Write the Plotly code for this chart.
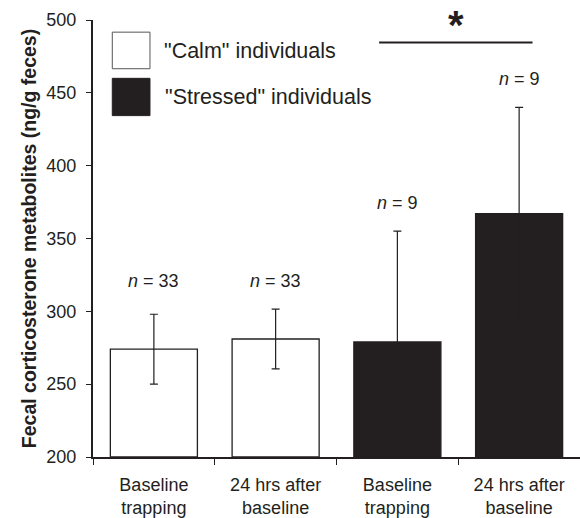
import plotly.graph_objects as go

# ---- data ----
categories = ["Baseline<br>trapping", "24 hrs after<br>baseline",
              "Baseline<br>trapping", "24 hrs after<br>baseline"]
groups = ["Calm", "Calm", "Stressed", "Stressed"]
means = [274, 281, 279, 367]
errors = [24, 20.5, 76, 73]
n_labels = ["33", "33", "9", "9"]
y_ticks = [200, 250, 300, 350, 400, 450, 500]
legend_labels = ['"Calm" individuals', '"Stressed" individuals']
sig_pair = [2, 3]

DARK = "#231f20"
FONT = "Liberation Sans, Arial, sans-serif"
fill_for = {"Calm": "white", "Stressed": DARK}

x_pos = list(range(len(means)))

fig = go.Figure()
fig.add_trace(go.Bar(
    x=x_pos, y=[m - 200 for m in means], base=200,
    width=0.715,
    marker=dict(color=[fill_for[g] for g in groups],
                line=dict(color=DARK, width=1.3)),
    error_y=dict(type="data", array=errors, symmetric=True,
                 color=DARK, thickness=1.2, width=4),
    showlegend=False,
))

# n labels
tops = [m + e for m, e in zip(means, errors)]
label_base = [max(tops[0], tops[1]), max(tops[0], tops[1]), tops[2], tops[3]]
for i, (lb, n) in enumerate(zip(label_base, n_labels)):
    fig.add_annotation(x=i, y=lb, text=f"<i>n</i> = {n}", showarrow=False,
                       yanchor="middle", yshift=28,
                       font=dict(family=FONT, size=18, color=DARK))

# significance bar + asterisk
fig.add_shape(type="line", xref="x", yref="y",
              x0=sig_pair[0] - 0.15, x1=sig_pair[1] + 0.11, y0=484.6, y1=484.6,
              line=dict(color=DARK, width=2))
fig.add_annotation(x=(sig_pair[0] + sig_pair[1]) / 2 - 0.02, y=496.5, text="<b>*</b>",
                   showarrow=False, yanchor="middle",
                   font=dict(family=FONT, size=40, color=DARK))

# legend drawn manually
boxes = [(0.9722, 0.8885), (0.8665, 0.7812)]
text_pos = [(0.1423, 0.9283), (0.1444, 0.8228)]
for (yt, yb), (tx, ty), lab, g in zip(boxes, text_pos, legend_labels, ["Calm", "Stressed"]):
    fig.add_shape(type="rect", xref="paper", yref="paper",
                  x0=0.0396, x1=0.117, y0=yb, y1=yt,
                  fillcolor=fill_for[g], line=dict(color="#555555" if g == "Calm" else DARK, width=1))
    fig.add_annotation(xref="paper", yref="paper", x=tx, y=ty, text=lab,
                       showarrow=False, xanchor="left", yanchor="middle",
                       font=dict(family=FONT, size=21.5, color=DARK))

fig.update_layout(
    width=580, height=518,
    margin=dict(l=93, r=0, t=20, b=56),
    plot_bgcolor="white", paper_bgcolor="white",
    font=dict(family=FONT, color=DARK),
    xaxis=dict(range=[-0.5, 3.5], tickmode="array", tickvals=x_pos, ticktext=categories,
               showline=True, linecolor=DARK, linewidth=2,
               ticks="outside", ticklen=6, tickcolor="rgba(0,0,0,0)",
               ticklabelstandoff=4,
               tickfont=dict(family=FONT, size=18, color=DARK),
               minor=dict(tickmode="array", tickvals=[-0.5, 0.5, 1.5, 2.5, 3.5],
                          ticks="outside", ticklen=6, tickwidth=1.2, tickcolor=DARK),
               showgrid=False, zeroline=False, fixedrange=True),
    yaxis=dict(range=[200, 500], tickmode="array", tickvals=y_ticks,
               showline=True, linecolor=DARK, linewidth=2,
               ticks="outside", ticklen=5, tickwidth=1.2, tickcolor=DARK,
               ticklabelstandoff=6,
               tickfont=dict(family=FONT, size=18, color=DARK),
               title=dict(text="<b>Fecal corticosterone metabolites (ng/g feces)</b>",
                          font=dict(family=FONT, size=19.5, color=DARK), standoff=5),
               showgrid=False, zeroline=False, fixedrange=True),
)

fig.write_html("out.html")
